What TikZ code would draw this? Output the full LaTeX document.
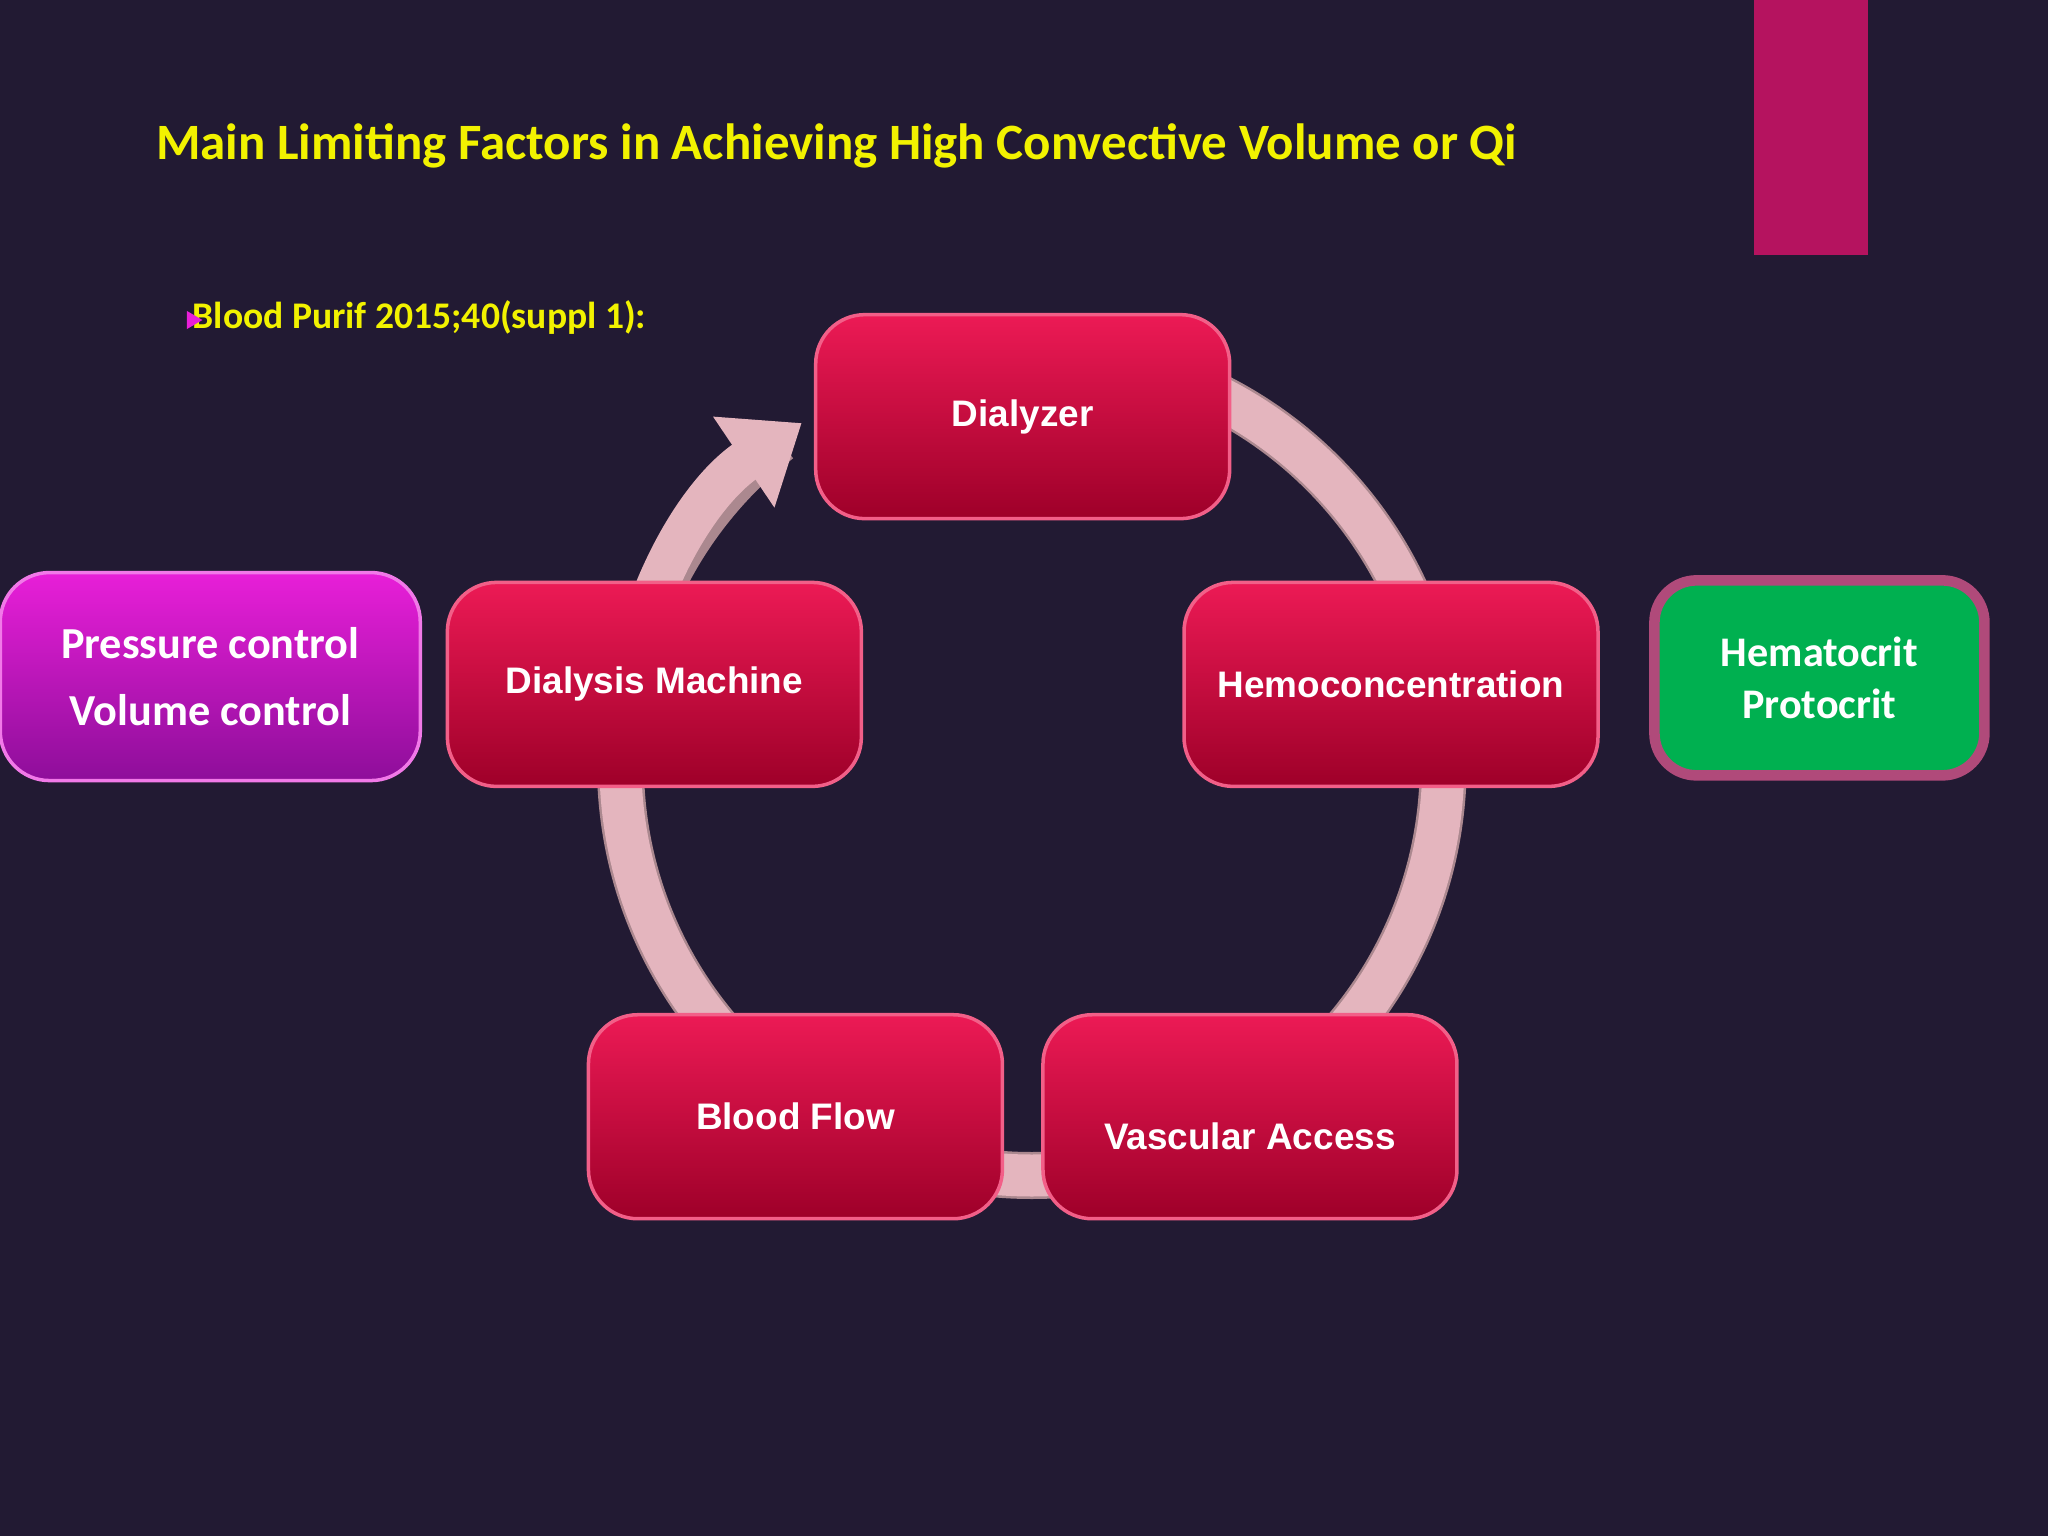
\documentclass[tikz,border=0pt]{standalone}
\usepackage{fontspec}
\setmainfont{Carlito}
\newfontfamily\arialb{Liberation Sans}
\usetikzlibrary{arrows.meta}
\definecolor{bg}{HTML}{221A33}
\definecolor{bar}{HTML}{B5135F}
\definecolor{ttl}{HTML}{F2F200}
\definecolor{redT}{HTML}{EC1A55}
\definecolor{redB}{HTML}{9E0029}
\definecolor{magT}{HTML}{E81FD8}
\definecolor{magB}{HTML}{8E0E9A}
\definecolor{grn}{HTML}{00B050}
\definecolor{grnb}{HTML}{B04A7A}
\definecolor{ring}{HTML}{E4B5BE}
\tikzset{
 x=0.01306cm,y=-0.01306cm,
 rbox/.style={rounded corners=14pt,top color=redT,bottom color=redB,draw=redT!70!white,line width=1pt,
   minimum width=4.14cm,minimum height=2.04cm,font=\arialb\bfseries\fontsize{10.5}{13}\selectfont,text=white,align=center},
 mbox/.style={rounded corners=14pt,top color=magT,bottom color=magB,draw=magT!60!white,line width=1pt,
   minimum width=4.2cm,minimum height=2.08cm,font=\bfseries\fontsize{12.6}{19}\selectfont,text=white,align=center},
 gbox/.style={rounded corners=12pt,fill=grn,draw=grnb,line width=3pt,
   minimum width=3.3cm,minimum height=1.95cm,font=\bfseries\fontsize{12}{14.8}\selectfont,text=white,align=center}
}
\begin{document}
\begin{tikzpicture}
\useasboundingbox (0,0) rectangle (1568,1176);
\fill[bg] (0,0) rectangle (1568,1176);
\fill[bar] (1343,0) rectangle (1430,195);
\node[anchor=west,text=ttl,font=\bfseries\fontsize{14.5}{18}\selectfont] (title) at (110,112) {Main Limiting Factors in Achieving High Convective Volume or Qi};
\node[anchor=west,text=ttl,font=\bfseries\fontsize{10.7}{13}\selectfont] (ref) at (138,243) {Blood Purif 2015;40(suppl 1):};
\fill[magT] (143,238) -- (155,245) -- (143,252) -- cycle;
% ring
\coordinate (c) at (790,585);
\draw[ring!75!black,line width=0.47cm] ([shift={(-90:315)}]c) arc[start angle=-90,end angle=232,radius=315];
\draw[ring,line width=0.42cm,-{Triangle[length=0.7cm,width=1.05cm]}] ([shift={(-90:315)}]c) arc[start angle=-90,end angle=236,radius=315];
\node[rbox] (dz) at (783,319) {Dialyzer};
\node[rbox] (dm) at (501,524) {Dialysis Machine};
\node[rbox] (hc) at (1065,524) {Hemoconcentration};
\node[rbox] (bf) at (609,855) {Blood Flow};
\node[rbox] (va) at (957,855) {\\[6pt]Vascular Access};
\node[mbox] (pc) at (161,518) {Pressure control\\Volume control};
\node[gbox] (ht) at (1393,519) {Hematocrit\\Protocrit};
\end{tikzpicture}
\end{document}
